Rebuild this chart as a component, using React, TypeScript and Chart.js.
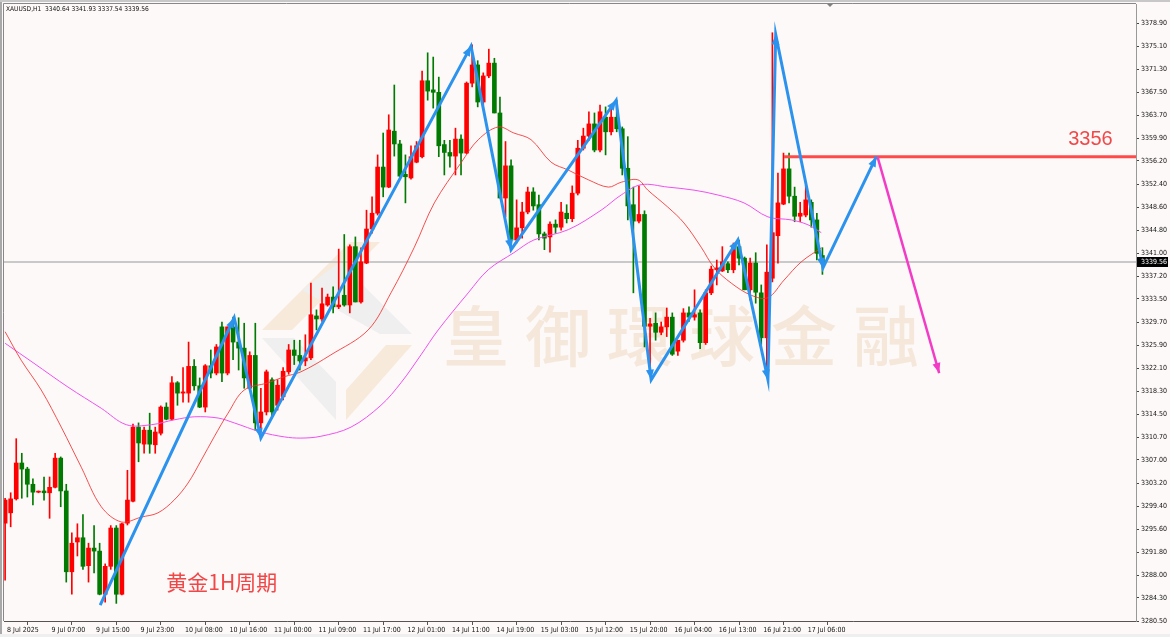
import { useEffect, useRef } from 'react';
import { Chart, registerables } from 'chart.js';

Chart.register(...registerables);

const symbolName = 'XAUUSD,H1';

const opens = [
  3296.6, 3298.3, 3300.6, 3306.5, 3305.5, 3303.0, 3301.7, 3301.9, 3301.6, 3302.5,
  3307.3, 3301.9, 3288.6, 3293.5, 3294.2, 3289.6, 3292.5, 3292.0, 3284.9, 3289.5,
  3295.8, 3284.9, 3296.6, 3300.2, 3312.4, 3309.6, 3311.9, 3309.5, 3311.4, 3315.7,
  3313.7, 3319.7, 3318.0, 3318.0, 3322.4, 3319.2, 3315.7, 3322.5, 3321.3, 3328.9,
  3321.3, 3328.9, 3326.4, 3325.4, 3318.8, 3324.2, 3313.1, 3314.9, 3320.2, 3316.0,
  3317.4, 3321.5, 3325.1, 3324.2, 3323.3, 3323.8, 3330.7, 3330.2, 3332.5, 3333.8,
  3332.2, 3334.1, 3332.5, 3342.1, 3333.0, 3339.4, 3345.0, 3347.6, 3355.2, 3351.9,
  3361.1, 3359.0, 3354.0, 3353.4, 3356.0, 3356.9, 3369.4, 3367.9, 3367.5, 3358.9,
  3357.6, 3357.0, 3359.8, 3357.5, 3369.0, 3372.0, 3365.9, 3370.2, 3372.3, 3364.1,
  3350.1, 3355.4, 3343.2, 3345.2, 3347.8, 3351.1, 3349.0, 3344.2, 3343.7, 3345.8,
  3345.3, 3347.6, 3346.7, 3350.9, 3358.3, 3360.3, 3362.3, 3358.0, 3363.4, 3361.0,
  3363.4, 3361.5, 3355.0, 3349.0, 3346.3, 3347.4, 3329.0, 3329.5, 3328.0, 3328.9,
  3330.5, 3324.9, 3326.7, 3331.2, 3330.5, 3331.2, 3326.3, 3334.5, 3338.3, 3338.1,
  3339.3, 3338.3, 3342.1, 3340.2, 3335.0, 3339.4, 3334.5, 3327.1, 3336.9, 3343.9,
  3349.1, 3354.9, 3350.4, 3347.1, 3347.3, 3349.4, 3346.5, 3340.64,
];
const highs = [
  3300.7, 3301.6, 3310.5, 3308.1, 3305.8, 3303.9, 3301.9, 3304.2, 3304.2, 3308.1,
  3307.5, 3303.0, 3295.0, 3296.5, 3298.0, 3293.3, 3296.2, 3293.3, 3289.9, 3296.2,
  3296.2, 3296.6, 3305.3, 3312.9, 3313.1, 3312.4, 3314.7, 3312.4, 3315.9, 3316.4,
  3320.7, 3319.9, 3322.2, 3326.4, 3323.5, 3320.5, 3322.7, 3325.1, 3326.0, 3329.7,
  3328.9, 3330.5, 3330.4, 3329.5, 3324.8, 3329.5, 3318.8, 3321.8, 3320.5, 3320.2,
  3322.2, 3326.0, 3326.7, 3326.7, 3327.6, 3336.1, 3331.7, 3335.3, 3334.3, 3335.5,
  3341.7, 3344.1, 3342.4, 3343.7, 3341.9, 3348.1, 3350.3, 3357.2, 3360.8, 3363.8,
  3368.7, 3359.6, 3357.2, 3358.7, 3359.4, 3371.0, 3374.0, 3373.3, 3370.0, 3359.6,
  3359.6, 3361.6, 3360.5, 3369.2, 3375.3, 3372.7, 3370.7, 3374.6, 3373.1, 3366.7,
  3359.4, 3356.4, 3349.8, 3349.4, 3351.9, 3351.8, 3350.6, 3344.5, 3346.2, 3346.5,
  3349.4, 3349.0, 3352.1, 3359.6, 3361.6, 3364.3, 3364.1, 3365.4, 3365.1, 3365.2,
  3366.2, 3361.8, 3360.2, 3351.9, 3352.1, 3348.0, 3330.3, 3331.2, 3329.7, 3332.0,
  3331.2, 3326.7, 3331.9, 3332.2, 3335.0, 3331.7, 3335.0, 3338.9, 3339.9, 3342.1,
  3339.6, 3342.7, 3343.2, 3340.4, 3340.2, 3341.1, 3335.8, 3342.4, 3377.3, 3354.2,
  3357.5, 3357.5, 3351.9, 3349.4, 3352.2, 3349.8, 3347.6, 3341.93,
];
const lows = [
  3287.2, 3296.0, 3300.4, 3300.7, 3300.9, 3299.6, 3301.6, 3300.4, 3297.4, 3302.4,
  3299.3, 3286.9, 3284.9, 3291.2, 3289.0, 3286.9, 3288.4, 3284.8, 3283.6, 3289.0,
  3283.4, 3284.8, 3296.3, 3300.1, 3306.7, 3308.1, 3308.1, 3308.1, 3311.1, 3313.6,
  3313.6, 3316.0, 3316.5, 3316.5, 3318.5, 3315.6, 3314.9, 3320.5, 3321.0, 3319.9,
  3321.0, 3323.5, 3321.8, 3318.8, 3318.5, 3311.9, 3311.6, 3314.4, 3313.9, 3315.2,
  3316.9, 3321.1, 3322.7, 3321.8, 3322.5, 3323.5, 3328.4, 3329.8, 3332.3, 3331.2,
  3331.9, 3332.3, 3331.2, 3333.0, 3332.8, 3339.3, 3344.3, 3347.3, 3350.3, 3351.8,
  3357.0, 3353.6, 3349.3, 3353.2, 3355.9, 3356.7, 3366.2, 3364.9, 3356.9, 3353.9,
  3355.2, 3353.9, 3353.9, 3357.4, 3368.4, 3365.1, 3365.4, 3369.9, 3364.1, 3350.1,
  3347.0, 3341.9, 3342.7, 3343.5, 3347.5, 3348.1, 3343.2, 3341.6, 3341.2, 3344.3,
  3344.8, 3346.0, 3346.2, 3350.6, 3358.0, 3359.6, 3357.7, 3357.7, 3357.2, 3360.5,
  3361.0, 3353.9, 3346.5, 3334.5, 3346.0, 3325.6, 3321.3, 3326.7, 3327.6, 3327.3,
  3324.2, 3324.2, 3326.4, 3329.8, 3330.0, 3325.3, 3326.0, 3334.2, 3335.8, 3338.0,
  3337.8, 3337.8, 3339.1, 3335.0, 3333.3, 3332.8, 3326.0, 3321.5, 3336.3, 3339.4,
  3349.0, 3349.3, 3346.2, 3346.2, 3347.0, 3345.3, 3339.9, 3337.54,
];
const closes = [
  3300.4, 3300.6, 3306.5, 3305.5, 3303.0, 3301.7, 3301.7, 3301.6, 3302.5, 3307.3,
  3301.9, 3288.6, 3293.3, 3294.2, 3289.5, 3292.5, 3292.0, 3284.9, 3289.5, 3295.8,
  3284.9, 3296.5, 3300.4, 3312.4, 3309.8, 3311.9, 3309.6, 3311.6, 3315.7, 3313.7,
  3319.7, 3318.0, 3318.2, 3322.4, 3319.2, 3315.7, 3322.5, 3321.3, 3325.6, 3321.3,
  3328.9, 3326.4, 3325.4, 3320.5, 3324.2, 3313.1, 3314.9, 3321.5, 3314.9, 3319.3,
  3321.6, 3325.1, 3324.2, 3323.3, 3323.8, 3330.9, 3330.2, 3332.7, 3333.8, 3332.2,
  3332.5, 3332.5, 3342.1, 3333.0, 3339.6, 3345.0, 3347.6, 3355.2, 3351.9, 3361.3,
  3359.0, 3353.7, 3353.6, 3356.9, 3358.7, 3369.4, 3367.7, 3367.5, 3358.7, 3357.6,
  3357.0, 3359.8, 3357.5, 3369.0, 3372.0, 3365.9, 3370.2, 3372.3, 3364.1, 3350.1,
  3355.4, 3343.2, 3345.2, 3347.8, 3351.1, 3348.8, 3344.2, 3343.5, 3345.8, 3345.3,
  3347.8, 3346.7, 3350.9, 3358.3, 3360.3, 3362.3, 3358.0, 3364.3, 3361.0, 3363.4,
  3361.5, 3355.0, 3348.8, 3346.3, 3347.4, 3329.0, 3329.4, 3328.0, 3328.9, 3330.5,
  3324.4, 3326.7, 3331.2, 3330.5, 3330.9, 3326.3, 3334.5, 3338.4, 3338.6, 3339.6,
  3338.3, 3342.1, 3340.2, 3335.0, 3339.4, 3334.6, 3327.1, 3337.9, 3344.4, 3349.3,
  3354.9, 3350.4, 3347.1, 3347.6, 3349.8, 3346.5, 3341.0, 3339.56,
];

// time axis labels (every 8 bars)
const xTickBars = [0, 8, 16, 24, 32, 40, 48, 56, 64, 72, 80, 88, 96, 104, 112, 120, 128, 136, 144];
const xTickLabels = [
  '8 Jul 2025', '9 Jul 07:00', '9 Jul 15:00', '9 Jul 23:00', '10 Jul 08:00', '10 Jul 16:00',
  '11 Jul 00:00', '11 Jul 09:00', '11 Jul 17:00', '12 Jul 01:00', '14 Jul 11:00', '14 Jul 19:00',
  '15 Jul 03:00', '15 Jul 12:00', '15 Jul 20:00', '16 Jul 04:00', '16 Jul 13:00', '16 Jul 21:00',
  '17 Jul 06:00',
];
const yTickLabels = [
  '3378.90', '3375.10', '3371.30', '3367.50', '3363.70', '3359.90', '3356.20', '3352.40',
  '3348.60', '3344.80', '3341.00', '3337.20', '3333.50', '3329.70', '3325.90', '3322.10',
  '3318.30', '3314.50', '3310.70', '3307.00', '3303.20', '3299.40', '3295.60', '3291.80',
  '3288.00', '3284.30', '3280.50',
];

// moving averages
const maFastBars = [0, 2.9, 6.5, 10.1, 13.7, 17.3, 20.9, 24.5, 27.5, 30.4, 32.9, 35.3, 37.6, 40.1, 43.0, 47.3, 50.2, 53.2, 58.6, 65.3, 69.4, 73.6, 77.2, 82.0, 85.1, 88.7, 91.5, 94.6, 98.2, 101.3, 104.9, 108.5, 110.8, 113.8, 115.6, 119.2, 122.1, 125.2, 127.5, 130.6, 134.2, 137.2, 140.1, 143.2, 146.8];
const maFastValues = [3328.1, 3323.4, 3318.5, 3312.4, 3305.8, 3299.3, 3296.8, 3297.6, 3298.3, 3300.4, 3303.2, 3307.0, 3310.8, 3314.7, 3318.5, 3319.7, 3320.7, 3321.5, 3324.3, 3328.4, 3334.5, 3342.0, 3349.3, 3355.9, 3359.7, 3361.8, 3360.8, 3359.7, 3356.0, 3354.7, 3353.1, 3351.9, 3352.7, 3353.1, 3351.4, 3348.6, 3346.0, 3342.0, 3338.7, 3336.1, 3334.1, 3333.7, 3336.6, 3339.6, 3341.9];
const maSlowBars = [0, 5.2, 11.3, 17.3, 21.8, 26.3, 30.4, 34.0, 38.3, 41.2, 46.0, 50.2, 53.2, 56.8, 62.2, 67.6, 71.2, 74.8, 77.9, 83.3, 86.9, 91.5, 95.1, 101.3, 107.2, 110.8, 114.4, 119.2, 123.9, 128.2, 132.9, 137.2, 141.4, 144.4, 146.8];
const maSlowValues = [3326.2, 3322.9, 3319.0, 3315.5, 3312.8, 3312.8, 3313.6, 3314.1, 3313.9, 3313.1, 3311.6, 3310.8, 3310.6, 3310.9, 3312.4, 3316.0, 3319.7, 3324.3, 3328.4, 3334.5, 3338.3, 3341.1, 3343.2, 3344.9, 3348.1, 3350.6, 3352.3, 3351.9, 3351.4, 3350.6, 3349.3, 3347.0, 3346.5, 3345.7, 3344.4];

// hand-drawn wave (blue), projection (magenta), level (red)
const waveBars = [17.1, 41.2, 46.0, 83.8, 91.0, 109.9, 116.2, 131.8, 137.2, 138.6, 147.1, 156.7];
const wavePrices = [3283.1, 3330.4, 3310.6, 3375.1, 3341.6, 3366.2, 3320.2, 3343.2, 3320.2, 3377.0, 3338.6, 3356.9];
const projBars = [156.9, 168.0];
const projPrices = [3356.9, 3321.3];
const levelBars = [140.1, 203.4];
const levelPrice = 3356.9;
const levelText = '3356';
const titleText = '黄金1H周期';
const titleAt = { bar: 29.0, price: 3285.6 };
const levelTextAt = { bar: 191.2, price: 3358.8 };
const watermarkText = '皇御環球金融';

const X_MIN = -0.2;
const X_MAX = 203.4;
const Y_MIN = 3280.5;
const Y_MAX = 3382.03;

const UP = '#FF0000';
const DOWN = '#007A00';
const BG = '#FDF9F8';
const WAVE = '#2B93EE';
const SMALL_FAMILY = '"Liberation Sans Narrow", "DejaVu Sans Condensed", "Liberation Sans", Arial, sans-serif';
const AXIS_FONT = { family: SMALL_FAMILY, size: 7 };

function arrowHead(ctx: CanvasRenderingContext2D, x0: number, y0: number, x1: number, y1: number, color: string, len = 10, half = 4) {
  const a = Math.atan2(y1 - y0, x1 - x0);
  ctx.save();
  ctx.fillStyle = color;
  ctx.beginPath();
  ctx.moveTo(x1, y1);
  ctx.lineTo(x1 - len * Math.cos(a) + half * Math.sin(a), y1 - len * Math.sin(a) - half * Math.cos(a));
  ctx.lineTo(x1 - len * Math.cos(a) - half * Math.sin(a), y1 - len * Math.sin(a) + half * Math.cos(a));
  ctx.closePath();
  ctx.fill();
  ctx.restore();
}

const decor = {
  id: 'decor',
  beforeDraw(chart: any) {
    const { ctx, width, height } = chart;
    ctx.save();
    ctx.fillStyle = BG;
    ctx.fillRect(0, 0, width, height);
    ctx.restore();
  },
  beforeDatasetsDraw(chart: any) {
    const { ctx } = chart;
    ctx.save();
    // logo
    const band = (pts: number[][], color: string) => {
      ctx.fillStyle = color;
      ctx.beginPath();
      ctx.moveTo(pts[0][0], pts[0][1]);
      for (let i = 1; i < pts.length; i++) ctx.lineTo(pts[i][0], pts[i][1]);
      ctx.closePath();
      ctx.fill();
    };
    band([[262, 330], [350, 242], [380, 242], [292, 330]], '#F8EADB');
    band([[262, 338], [294, 338], [336, 382], [336, 420]], '#EFEFEF');
    band([[302, 290], [340, 262], [412, 334], [380, 334]], '#EFEFEF');
    band([[346, 420], [346, 390], [386, 345], [412, 345]], '#F8EADB');
    // text
    ctx.fillStyle = '#F5E8DB';
    ctx.font = '500 66px "Noto Sans CJK TC", sans-serif';
    ctx.textAlign = 'center';
    ctx.textBaseline = 'middle';
    const chars = Array.from(watermarkText);
    chars.forEach((c, i) => ctx.fillText(c, 476 + i * 82, 336));
    ctx.restore();
  },
  afterDatasetsDraw(chart: any) {
    const { ctx } = chart;
    const xs = chart.scales.x;
    const ys = chart.scales.y;
    const area = chart.chartArea;
    ctx.save();
    ctx.beginPath();
    ctx.rect(area.left, area.top, area.right - area.left, area.bottom - area.top);
    ctx.clip();
    for (let i = 1; i < waveBars.length; i++) {
      arrowHead(ctx,
        xs.getPixelForValue(waveBars[i - 1]), ys.getPixelForValue(wavePrices[i - 1]),
        xs.getPixelForValue(waveBars[i]), ys.getPixelForValue(wavePrices[i]), WAVE);
    }
    arrowHead(ctx,
      xs.getPixelForValue(projBars[0]), ys.getPixelForValue(projPrices[0]),
      xs.getPixelForValue(projBars[1]), ys.getPixelForValue(projPrices[1]), '#F23CC6');
    // annotation texts
    ctx.fillStyle = '#F04848';
    ctx.textBaseline = 'alphabetic';
    ctx.textAlign = 'left';
    ctx.font = '21px "Noto Sans CJK SC", sans-serif';
    ctx.fillText(titleText, xs.getPixelForValue(titleAt.bar), ys.getPixelForValue(titleAt.price));
    ctx.font = '20px "Liberation Sans", Arial, sans-serif';
    ctx.fillText(levelText, xs.getPixelForValue(levelTextAt.bar), ys.getPixelForValue(levelTextAt.price));
    ctx.restore();
  },
  afterDraw(chart: any) {
    const { ctx, width, height } = chart;
    const area = chart.chartArea;
    const ys = chart.scales.y;
    const xs = chart.scales.x;
    ctx.save();
    // outer frame
    ctx.fillStyle = '#A9A9A9';
    ctx.fillRect(0, 0, 2, height);
    ctx.fillStyle = '#C8C8C8';
    ctx.fillRect(0, 0, width, 2);
    ctx.fillStyle = '#EFEFEF';
    ctx.fillRect(0, height - 3, width, 3);
    ctx.strokeStyle = '#888888';
    ctx.lineWidth = 1;
    ctx.beginPath();
    ctx.moveTo(area.left - 0.5, area.bottom);
    ctx.lineTo(area.left - 0.5, area.top - 0.5);
    ctx.lineTo(area.right, area.top - 0.5);
    ctx.stroke();
    // shift marker
    const mx = Math.round(xs.getPixelForValue(closes.length + 0.4));
    ctx.fillStyle = '#808080';
    ctx.beginPath();
    ctx.moveTo(mx - 3, area.top);
    ctx.lineTo(mx + 3, area.top);
    ctx.lineTo(mx, area.top + 3);
    ctx.closePath();
    ctx.fill();
    // header
    const n = closes.length - 1;
    ctx.fillStyle = '#111111';
    ctx.font = `6.6px ${SMALL_FAMILY}`;
    ctx.textBaseline = 'middle';
    ctx.textAlign = 'left';
    ctx.fillText(`${symbolName}  ${opens[n].toFixed(2)} ${highs[n].toFixed(2)} ${lows[n].toFixed(2)} ${closes[n].toFixed(2)}`, 6, 9);
    // bid label
    const by = Math.round(ys.getPixelForValue(closes[n]));
    ctx.fillStyle = '#000000';
    ctx.fillRect(area.right + 1, by - 5, 31, 10);
    ctx.fillStyle = '#FFFFFF';
    ctx.font = `7px ${SMALL_FAMILY}`;
    ctx.fillText(closes[n].toFixed(2), area.right + 5, by);
    ctx.restore();
  },
};

export default function App() {
  const ref = useRef<HTMLCanvasElement>(null);
  useEffect(() => {
    document.body.style.margin = '0';
    const idx = closes.map((_, i) => i);
    const colors = idx.map((i) => (closes[i] >= opens[i] ? UP : DOWN));
    const chart = new Chart(ref.current as HTMLCanvasElement, {
      type: 'bar',
      data: {
        datasets: [
          {
            type: 'line',
            data: [{ x: X_MIN, y: closes[closes.length - 1] }, { x: X_MAX, y: closes[closes.length - 1] }],
            borderColor: '#C9C9C9',
            borderWidth: 2,
            pointRadius: 0,
            order: 20,
          } as any,
          {
            type: 'bar',
            data: idx.map((i) => ({ x: i, y: [lows[i], highs[i]] })),
            backgroundColor: colors,
            barThickness: 1,
            grouped: false,
            minBarLength: 1,
            order: 10,
          } as any,
          {
            type: 'bar',
            data: idx.map((i) => ({ x: i, y: [opens[i], closes[i]] })),
            backgroundColor: colors,
            barThickness: 4,
            grouped: false,
            minBarLength: 1,
            order: 9,
          } as any,
          {
            type: 'line',
            data: maFastBars.map((b, i) => ({ x: b, y: maFastValues[i] })),
            borderColor: 'rgba(240,50,50,0.85)',
            borderWidth: 1,
            pointRadius: 0,
            tension: 0.35,
            order: 5,
          } as any,
          {
            type: 'line',
            data: maSlowBars.map((b, i) => ({ x: b, y: maSlowValues[i] })),
            borderColor: '#F050F0',
            borderWidth: 1,
            pointRadius: 0,
            tension: 0.35,
            order: 5,
          } as any,
          {
            type: 'line',
            data: levelBars.map((b) => ({ x: b, y: levelPrice })),
            borderColor: '#FF4A4A',
            borderWidth: 3,
            pointRadius: 0,
            order: 3,
          } as any,
          {
            type: 'line',
            data: waveBars.map((b, i) => ({ x: b, y: wavePrices[i] })),
            borderColor: WAVE,
            borderWidth: 3,
            pointRadius: 0,
            order: 2,
          } as any,
          {
            type: 'line',
            data: projBars.map((b, i) => ({ x: b, y: projPrices[i] })),
            borderColor: '#F23CC6',
            borderWidth: 2.5,
            pointRadius: 0,
            order: 2,
          } as any,
        ],
      },
      options: {
        animation: false,
        responsive: false,
        devicePixelRatio: 1,
        layout: { padding: { top: 4, left: 4, right: 0, bottom: 0 } },
        plugins: { legend: { display: false }, tooltip: { enabled: false }, title: { display: false } },
        scales: {
          x: {
            type: 'linear',
            min: X_MIN,
            max: X_MAX,
            offset: false,
            position: 'bottom',
            afterBuildTicks: (s: any) => { s.ticks = xTickBars.map((v) => ({ value: v })); },
            afterFit: (s: any) => { s.height = 16; s.paddingLeft = 0; s.paddingRight = 0; },
            ticks: {
              align: 'start',
              autoSkip: false,
              maxRotation: 0,
              padding: 1,
              color: '#111111',
              font: AXIS_FONT,
              callback: (v: any) => {
                const k = xTickBars.indexOf(Number(v));
                return k >= 0 ? ' ' + xTickLabels[k] : '';
              },
            },
            grid: { drawOnChartArea: false, tickLength: 4, color: '#555555' },
            border: { color: '#555555' },
          },
          y: {
            type: 'linear',
            position: 'right',
            min: Y_MIN,
            max: Y_MAX,
            afterBuildTicks: (s: any) => { s.ticks = yTickLabels.map((t) => ({ value: parseFloat(t) })); },
            afterFit: (s: any) => { s.width = 34; s.paddingTop = 0; s.paddingBottom = 0; },
            ticks: {
              padding: 2,
              color: '#111111',
              font: AXIS_FONT,
              callback: (_v: any, i: number) => yTickLabels[i],
            },
            grid: { drawOnChartArea: false, tickLength: 3, color: '#444444' },
            border: { color: '#999999' },
          },
        },
      } as any,
      plugins: [decor],
    });
    return () => chart.destroy();
  }, []);
  return <canvas ref={ref} width={1170} height={637} style={{ display: 'block' }} />;
}
